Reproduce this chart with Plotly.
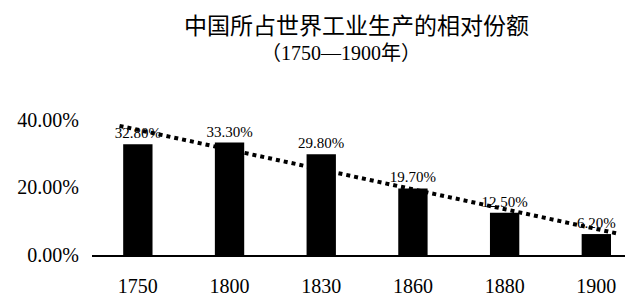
import numpy as np
import plotly.graph_objects as go

years = ["1750", "1800", "1830", "1860", "1880", "1900"]
shares = [32.8, 33.3, 29.8, 19.7, 12.5, 6.2]
y_ticks = [0, 20, 40]
y_tick_labels = ["0.00%", "20.00%", "40.00%"]
title_main = "中国所占世界工业生产的相对份额"
title_sub = "（1750—1900年）"

xs = list(range(len(years)))
labels = [f"{v:.2f}%" for v in shares]

# linear trend line fitted on the data
slope, intercept = np.polyfit(xs, shares, 1)
trend_x = np.array([-0.2, 5.25])
trend_y = slope * trend_x + intercept

serif = "Liberation Serif, Times New Roman, serif"

fig = go.Figure()
fig.add_trace(go.Bar(
    x=xs, y=shares, width=0.32,
    marker=dict(color="black", line=dict(width=0)),
    text=labels, textposition="outside", cliponaxis=False,
    constraintext="none",
    textfont=dict(family=serif, size=15, color="black"),
))
fig.add_trace(go.Scatter(
    x=trend_x, y=trend_y, mode="lines",
    line=dict(color="black", width=4, dash="dot"),
    hoverinfo="skip", cliponaxis=False,
))

fig.update_layout(
    width=625, height=288,
    margin=dict(l=84, r=0, t=95, b=41, autoexpand=False),
    paper_bgcolor="white", plot_bgcolor="white",
    showlegend=False,
    xaxis=dict(
        range=[-0.5, 5.4], tickmode="array", tickvals=xs, ticktext=years,
        showgrid=False, zeroline=False, showline=True, linecolor="black",
        linewidth=2, ticks="", ticklabelstandoff=12, automargin=False,
        tickfont=dict(family=serif, size=20, color="black"),
    ),
    yaxis=dict(
        range=[0, 45], tickmode="array", tickvals=y_ticks, ticktext=y_tick_labels,
        showgrid=False, zeroline=False, showline=False, ticks="",
        ticklabelstandoff=12, automargin=False,
        tickfont=dict(family=serif, size=20, color="black"),
    ),
    annotations=[
        dict(text=title_main, xref="paper", yref="paper", x=0.488, y=1.52,
             xanchor="center", yanchor="middle", showarrow=False,
             font=dict(family="Noto Sans CJK SC", size=23, color="black")),
        dict(text=title_sub, xref="paper", yref="paper", x=0.46, y=1.33,
             xanchor="center", yanchor="middle", showarrow=False,
             font=dict(family="Liberation Serif, Noto Sans CJK SC", size=20, color="black")),
    ],
)

fig.write_html("out.html")
